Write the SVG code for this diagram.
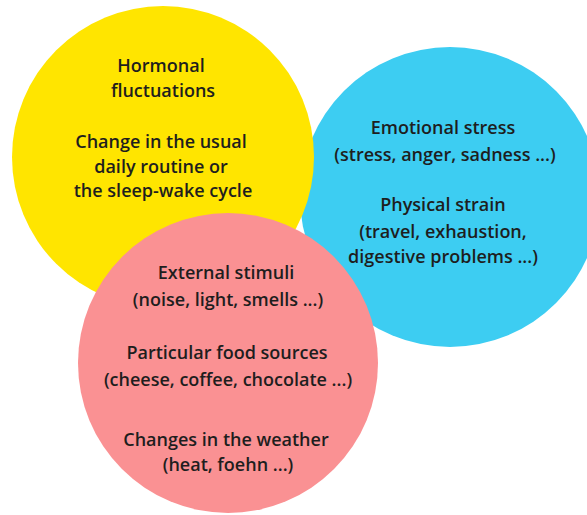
<svg xmlns="http://www.w3.org/2000/svg" width="587" height="515" viewBox="0 0 587 515">
<style>
text{font-family:"Open Sans","Noto Sans","DejaVu Sans",sans-serif;font-size:18px;font-weight:600;fill:#1e1e1e;text-anchor:middle}
</style>
<rect width="587" height="515" fill="#ffffff"/>
<g id="blue">
<circle cx="450" cy="197" r="150" fill="#3dcdf2"/>
<text x="443" y="134">Emotional stress</text>
<text x="445" y="161">(stress, anger, sadness ...)</text>
<text x="443" y="211">Physical strain</text>
<text x="443" y="238">(travel, exhaustion,</text>
<text x="443" y="263">digestive problems ...)</text>
</g>
<g id="yellow">
<circle cx="163" cy="157" r="151" fill="#ffe500"/>
<text x="161" y="72">Hormonal</text>
<text x="163" y="97">fluctuations</text>
<text x="161" y="148">Change in the usual</text>
<text x="161" y="173">daily routine or</text>
<text x="163" y="197">the sleep-wake cycle</text>
</g>
<g id="pink">
<circle cx="228" cy="363" r="150" fill="#fa9193"/>
<text x="226" y="279">External stimuli</text>
<text x="228" y="306">(noise, light, smells ...)</text>
<text x="227" y="359">Particular food sources</text>
<text x="228" y="386">(cheese, coffee, chocolate ...)</text>
<text x="226" y="446">Changes in the weather</text>
<text x="228" y="471">(heat, foehn ...)</text>
</g>
<g id="connectors"/>
</svg>
